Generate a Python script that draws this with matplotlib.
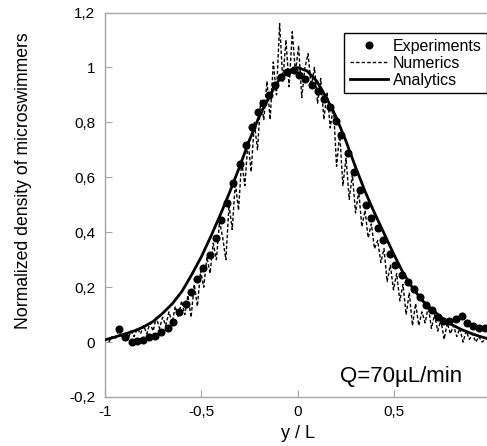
import matplotlib
matplotlib.use("Agg")
import matplotlib.pyplot as plt
import numpy as np
from matplotlib.ticker import FuncFormatter

plt.rcParams["font.family"] = ["Liberation Sans", "DejaVu Sans"]

# Experiments (dots)
exp_x = [-0.926, -0.895, -0.862, -0.834, -0.800, -0.770, -0.739, -0.710, -0.675, -0.649,
         -0.615, -0.580, -0.554, -0.520, -0.489, -0.456, -0.425, -0.395, -0.364, -0.333,
         -0.300, -0.269, -0.238, -0.206, -0.178, -0.149, -0.117, -0.088, -0.054, -0.019,
         0.010, 0.041, 0.073, 0.105, 0.136, 0.171, 0.200, 0.228, 0.261, 0.292,
         0.323, 0.354, 0.383, 0.416, 0.446, 0.478, 0.508, 0.542, 0.573, 0.603,
         0.636, 0.667, 0.698, 0.729, 0.758, 0.789, 0.821, 0.852, 0.883, 0.914,
         0.944, 0.972]
exp_y = [0.047, 0.017, -0.001, 0.004, 0.007, 0.017, 0.022, 0.038, 0.052, 0.074,
         0.110, 0.140, 0.183, 0.228, 0.268, 0.316, 0.380, 0.444, 0.508, 0.579,
         0.650, 0.718, 0.783, 0.837, 0.870, 0.898, 0.935, 0.965, 0.985, 0.990,
         0.972, 0.958, 0.935, 0.916, 0.886, 0.856, 0.804, 0.753, 0.690, 0.619,
         0.553, 0.498, 0.452, 0.417, 0.370, 0.321, 0.279, 0.245, 0.218, 0.193,
         0.163, 0.135, 0.116, 0.091, 0.077, 0.078, 0.085, 0.095, 0.068, 0.057,
         0.052, 0.050]

# Numerics (dashed, noisy), uniform grid from -0.98 to 0.975
num_y = [0.00, 0.02, 0.01, 0.04, 0.02, 0.03, 0.01, 0.04, 0.02, 0.05,
         0.03, 0.06, 0.03, 0.07, 0.04, 0.09, 0.05, 0.09, 0.06, 0.11,
         0.07, 0.13, 0.09, 0.15, 0.10, 0.17, 0.09, 0.21, 0.13, 0.26,
         0.20, 0.31, 0.25, 0.36, 0.30, 0.44, 0.38, 0.30, 0.50, 0.41,
         0.58, 0.48, 0.66, 0.57, 0.73, 0.62, 0.80, 0.70, 0.88, 0.81,
         0.95, 0.81, 1.02, 0.90, 1.16, 0.95, 1.10, 0.93, 1.13, 0.98,
         1.08, 0.89, 1.00, 1.05, 0.93, 1.00, 0.87, 0.96, 0.81, 0.91,
         0.78, 0.86, 0.64, 0.76, 0.57, 0.67, 0.52, 0.61, 0.47, 0.55,
         0.42, 0.48, 0.38, 0.43, 0.34, 0.37, 0.29, 0.34, 0.22, 0.28,
         0.19, 0.25, 0.15, 0.21, 0.10, 0.18, 0.06, 0.14, 0.06, 0.11,
         0.07, 0.13, 0.05, 0.10, 0.04, 0.08, 0.01, 0.07, 0.03, 0.06,
         0.02, 0.05, 0.00, 0.04, 0.01, 0.03, 0.00, 0.02, 0.00, 0.01]
num_x = np.linspace(-0.98, 0.975, len(num_y))

# Analytics (solid)
ana_x = [-1.00, -0.95, -0.90, -0.85, -0.80, -0.75, -0.70, -0.65, -0.60, -0.55,
         -0.50, -0.45, -0.40, -0.35, -0.30, -0.25, -0.20, -0.15, -0.10, -0.05,
         0.00, 0.05, 0.10, 0.15, 0.20, 0.25, 0.30, 0.35, 0.40, 0.45,
         0.50, 0.55, 0.60, 0.65, 0.70, 0.75, 0.80, 0.85, 0.90, 0.95, 1.00]
ana_y = [0.008, 0.018, 0.029, 0.040, 0.055, 0.075, 0.105, 0.140, 0.185, 0.245,
         0.310, 0.385, 0.465, 0.550, 0.640, 0.735, 0.820, 0.890, 0.950, 0.987,
         1.000, 0.987, 0.950, 0.890, 0.820, 0.735, 0.640, 0.550, 0.470, 0.395,
         0.320, 0.250, 0.195, 0.150, 0.118, 0.088, 0.064, 0.046, 0.032, 0.020, 0.010]

fig = plt.figure(figsize=(4.87, 4.46), dpi=100)
ax = fig.add_axes([0.2156, 0.1099, 0.7906, 0.862])

ax.plot(num_x, num_y, color="black", lw=1.0, ls=(0, (2.5, 1.5)), label="Numerics", zorder=2)
ax.plot(ana_x, ana_y, color="black", lw=2.0, label="Analytics", zorder=3)
ax.plot(exp_x, exp_y, "o", color="black", ms=4.8, label="Experiments", zorder=4)

ax.set_xlim(-1, 1)
ax.set_ylim(-0.2, 1.2)
ax.set_xticks([-1, -0.5, 0, 0.5])
ax.set_yticks([-0.2, 0, 0.2, 0.4, 0.6, 0.8, 1, 1.2])

comma = FuncFormatter(lambda v, pos: ("%g" % round(v, 2)).replace(".", ","))
ax.xaxis.set_major_formatter(comma)
ax.yaxis.set_major_formatter(comma)

for side in ["left", "bottom", "top", "right"]:
    ax.spines[side].set_color("#a6a6a6")
    ax.spines[side].set_linewidth(1.0)
ax.tick_params(direction="in", length=5, color="#a6a6a6", labelsize=11)
ax.tick_params(axis="y", pad=7)
ax.tick_params(axis="x", pad=6)

ax.set_xlabel("y / L", fontsize=13, labelpad=4)
ax.set_ylabel("Normalized density of microswimmers", fontsize=12.7)
ax.yaxis.set_label_coords(-0.19, 0.5625)

handles, labels = ax.get_legend_handles_labels()
order = [2, 0, 1]
leg = ax.legend([handles[i] for i in order], [labels[i] for i in order],
                loc="upper right", bbox_to_anchor=(0.993, 0.946), fontsize=11.5,
                frameon=True, fancybox=False, edgecolor="black", framealpha=1,
                borderpad=0.35, labelspacing=0.12, handlelength=2.4, handletextpad=0.3,
                borderaxespad=0)
leg.get_frame().set_linewidth(1.0)

ax.text(0.54, -0.127, "Q=70µL/min", fontsize=16, ha="center", va="center")

fig.savefig("out.png", dpi=100)
